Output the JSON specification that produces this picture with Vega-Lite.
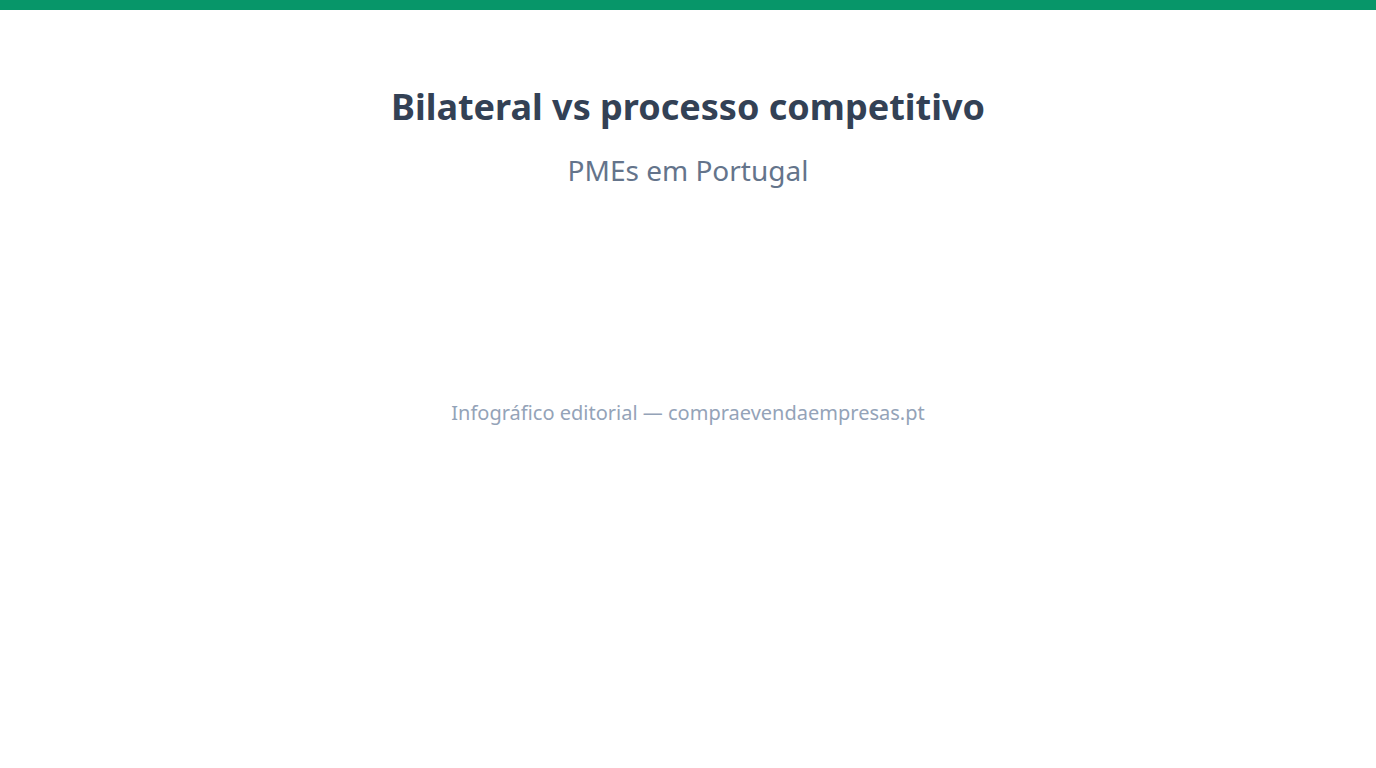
{
  "$schema": "https://vega.github.io/schema/vega-lite/v6.json",
  "width": 1376,
  "height": 768,
  "autosize": {"type": "fit", "contains": "padding"},
  "padding": 0,
  "background": "#ffffff",
  "config": {"view": {"stroke": null}, "font": "Noto Sans"},
  "datasets": {
    "bar": [{"x0": 0, "x1": 1376, "y0": 0, "y1": 10}],
    "labels": [
      {"role": "title", "label": "Bilateral vs processo competitivo", "x": 688, "y": 109},
      {"role": "subtitle", "label": "PMEs em Portugal", "x": 688, "y": 173},
      {"role": "footer", "label": "Infográfico editorial — compraevendaempresas.pt", "x": 688, "y": 414}
    ]
  },
  "encoding": {
    "x": {"field": "x", "type": "quantitative", "scale": {"domain": [0, 1376], "nice": false, "zero": false}, "axis": null},
    "y": {"field": "y", "type": "quantitative", "scale": {"domain": [0, 768], "reverse": true, "nice": false, "zero": false}, "axis": null}
  },
  "layer": [
    {
      "data": {"name": "bar"},
      "mark": {"type": "rect", "color": "#079669"},
      "encoding": {
        "x": {"field": "x0", "type": "quantitative"},
        "x2": {"field": "x1"},
        "y": {"field": "y0", "type": "quantitative"},
        "y2": {"field": "y1"}
      }
    },
    {
      "data": {"name": "labels"},
      "transform": [{"filter": "datum.role === 'title'"}],
      "mark": {"type": "text", "align": "center", "baseline": "middle", "fontSize": 36, "fontWeight": "bold", "color": "#334155"},
      "encoding": {"text": {"field": "label"}}
    },
    {
      "data": {"name": "labels"},
      "transform": [{"filter": "datum.role === 'subtitle'"}],
      "mark": {"type": "text", "align": "center", "baseline": "middle", "fontSize": 28, "color": "#64748b"},
      "encoding": {"text": {"field": "label"}}
    },
    {
      "data": {"name": "labels"},
      "transform": [{"filter": "datum.role === 'footer'"}],
      "mark": {"type": "text", "align": "center", "baseline": "middle", "fontSize": 20, "color": "#94a3b8"},
      "encoding": {"text": {"field": "label"}}
    }
  ]
}
